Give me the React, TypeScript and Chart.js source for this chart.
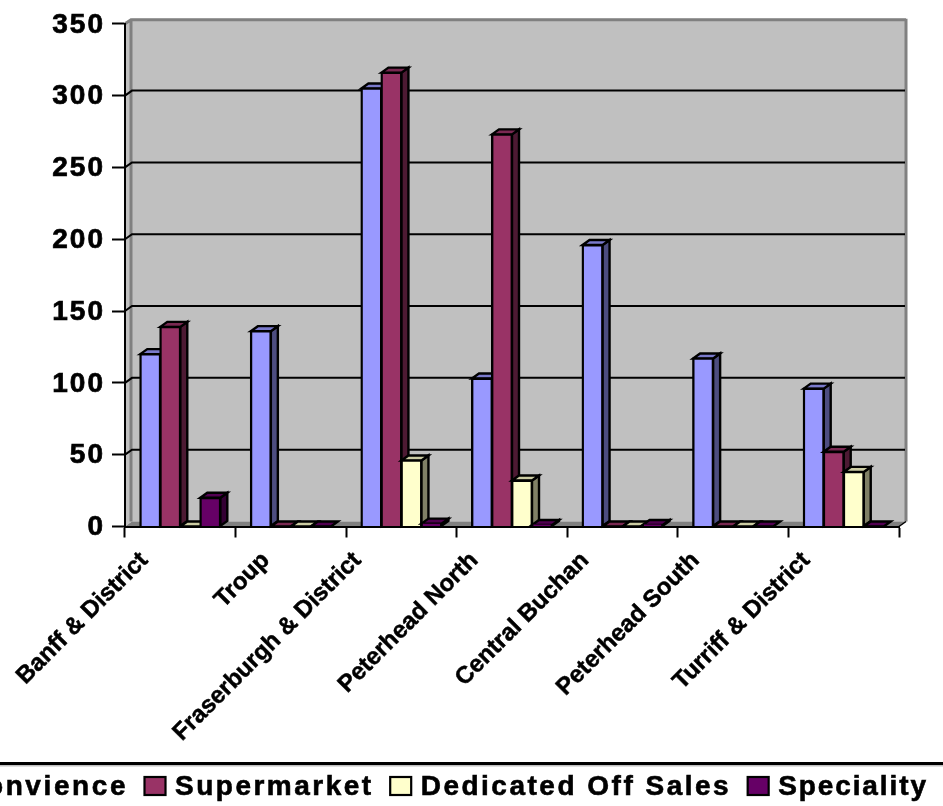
import React, { useEffect, useRef } from "react";
import { Chart, registerables } from "chart.js";

Chart.register(...registerables);

const categories = ["Banff & District", "Troup", "Fraserburgh & District", "Peterhead North", "Central Buchan", "Peterhead South", "Turriff & District"];
const convience = [120, 136, 305, 103, 196, 117, 96];
const supermarket = [139, 0, 316, 273, 0, 0, 52];
const dedicatedOffSales = [0, 0, 46, 32, 0, 0, 38];
const speciality = [20, 0, 2, 1, 1, 0, 0];
const seriesNames = ["Convience", "Supermarket", "Dedicated Off Sales", "Speciality"];
const yTicks = [0, 50, 100, 150, 200, 250, 300, 350];

const fronts = ["#9999FF", "#993366", "#FFFFCC", "#660066"];
const sides = ["#4D4D80", "#4D1A33", "#808066", "#330033"];
const tops = ["#7A7ACC", "#7A2952", "#CCCCA3", "#520052"];

const DX = 7;
const DY = 5;
const LINE = 2.4;
const legendSpacing = [2.6, 2.5, 2.5, 1.9];
const labelNudge = [1.5, 12.5, -6.5, 0, 0, 0, 0];

const wallPlugin = {
  id: "wall",
  beforeDraw(chart: any) {
    const { ctx, chartArea: a, scales } = chart;
    ctx.letterSpacing = "0px";
    const items = scales.x.getLabelItems(a);
    if (!items.__nudged) {
      items.forEach((it: any, i: number) => { it.options.translation[0] += labelNudge[i] || 0; });
      items.__nudged = true;
    }
    ctx.save();
    ctx.fillStyle = "#FFFFFF";
    ctx.fillRect(0, 0, chart.width, chart.height);
    ctx.fillStyle = "#C0C0C0";
    ctx.fillRect(a.left + DX, a.top - DY, a.width, a.height);
    ctx.beginPath();
    ctx.moveTo(a.left, a.top);
    ctx.lineTo(a.left + DX, a.top - DY);
    ctx.lineTo(a.left + DX, a.bottom - DY);
    ctx.lineTo(a.left, a.bottom);
    ctx.closePath();
    ctx.fill();
    ctx.fillStyle = "#808080";
    ctx.beginPath();
    ctx.moveTo(a.left, a.bottom);
    ctx.lineTo(a.left + DX, a.bottom - DY);
    ctx.lineTo(a.right + DX, a.bottom - DY);
    ctx.lineTo(a.right, a.bottom);
    ctx.closePath();
    ctx.fill();
    ctx.strokeStyle = "#808080";
    ctx.lineWidth = 3;
    ctx.beginPath();
    ctx.moveTo(a.left, a.top);
    ctx.lineTo(a.left + DX - 1, a.top - DY + 1);
    ctx.lineTo(a.right + DX, a.top - DY + 1);
    ctx.moveTo(a.left + DX - 1, a.top - DY + 1);
    ctx.lineTo(a.left + DX - 1, a.bottom - DY);
    ctx.moveTo(a.right + DX, a.top - DY);
    ctx.lineTo(a.right + DX, a.bottom - DY);
    ctx.stroke();
    ctx.strokeStyle = "#000000";
    ctx.lineWidth = 2;
    const y = scales.y;
    for (const t of y.ticks) {
      if (t.value === 0 || t.value === 350) continue;
      const py = y.getPixelForValue(t.value);
      ctx.beginPath();
      ctx.moveTo(a.left, py);
      ctx.lineTo(a.left + DX, py - DY);
      ctx.lineTo(a.right + DX - 1, py - DY);
      ctx.stroke();
    }
    ctx.lineWidth = 1.5;
    ctx.beginPath();
    ctx.moveTo(a.right, a.bottom);
    ctx.lineTo(a.right + DX, a.bottom - DY);
    ctx.stroke();
    ctx.restore();
  },
  beforeDatasetsDraw(chart: any) {
    const { ctx } = chart;
    for (let i = 0; i < seriesNames.length; i++) {
      const meta = chart.getDatasetMeta(i);
      ctx.save();
      ctx.strokeStyle = "#000000";
      ctx.lineWidth = LINE;
      for (const bar of meta.data) {
        const l = bar.x - bar.width / 2;
        const r = bar.x + bar.width / 2;
        const t = bar.y;
        const b = bar.base;
        if (b - t > 0.5) {
          ctx.fillStyle = sides[i];
          ctx.beginPath();
          ctx.moveTo(r, t);
          ctx.lineTo(r + DX, t - DY);
          ctx.lineTo(r + DX, b - DY);
          ctx.lineTo(r, b);
          ctx.closePath();
          ctx.fill();
          ctx.stroke();
        }
        ctx.fillStyle = tops[i];
        ctx.beginPath();
        ctx.moveTo(l, t);
        ctx.lineTo(l + DX, t - DY);
        ctx.lineTo(r + DX, t - DY);
        ctx.lineTo(r, t);
        ctx.closePath();
        ctx.fill();
        ctx.stroke();
      }
      ctx.restore();
      meta.controller.draw();
    }
    ctx.letterSpacing = "2px";
    return false;
  },
  afterDraw(chart: any) {
    const { ctx } = chart;
    ctx.save();
    ctx.fillStyle = "#C0C0C0";
    ctx.fillRect(0, 765, chart.width, 1.5);
    ctx.fillStyle = "#000000";
    ctx.fillRect(0, 762, chart.width, 3);
    ctx.font = "bold 28px 'Liberation Sans', Arial, sans-serif";
    ctx.textBaseline = "alphabetic";
    ctx.textAlign = "left";
    let cursor = 926;
    for (let i = seriesNames.length - 1; i >= 0; i--) {
      ctx.letterSpacing = legendSpacing[i] + "px";
      const w = ctx.measureText(seriesNames[i]).width - legendSpacing[i];
      const tx = cursor - w;
      ctx.fillStyle = "#000000";
      ctx.strokeStyle = "#000000";
      ctx.lineWidth = 0.6;
      ctx.fillText(seriesNames[i], tx, 795);
      ctx.strokeText(seriesNames[i], tx, 795);
      const bx = tx - 31.5;
      ctx.fillStyle = fronts[i];
      ctx.lineWidth = 2.2;
      ctx.fillRect(bx + 1, 777, 21, 18);
      ctx.strokeRect(bx + 1, 777, 21, 18);
      cursor = bx - 18;
    }
    ctx.restore();
  },
};

const seriesValues = [convience, supermarket, dedicatedOffSales, speciality];

export default function App() {
  const ref = useRef<HTMLCanvasElement>(null);
  useEffect(() => {
    document.body.style.margin = "0";
    document.body.style.background = "#FFFFFF";
    const chart = new Chart(ref.current!, {
      type: "bar",
      data: {
        labels: categories,
        datasets: seriesNames.map((name, i) => ({
          label: name,
          data: seriesValues[i],
          backgroundColor: fronts[i],
          borderColor: "#000000",
          borderWidth: LINE,
          inflateAmount: 1,
          categoryPercentage: 0.724,
          barPercentage: 1,
        })),
      },
      options: {
        responsive: false,
        animation: false,
        devicePixelRatio: 1,
        layout: { padding: { top: 23.5, right: 44, left: 0, bottom: 0 } },
        plugins: { legend: { display: false }, tooltip: { enabled: false }, title: { display: false } },
        scales: {
          x: {
            type: "category",
            offset: true,
            afterFit(s: any) { s.height = 279.5; },
            grid: { offset: true, drawOnChartArea: false, drawTicks: true, tickLength: 11, tickColor: "#000000", tickWidth: 2 },
            border: { display: true, color: "#000000", width: 2 },
            ticks: {
              autoSkip: false,
              z: -1,
              minRotation: 45,
              maxRotation: 45,
              color: "#000000",
              labelOffset: -37.5,
              padding: 9,
              textStrokeColor: "#000000",
              textStrokeWidth: 0.5,
              font: { family: "'Liberation Sans', Arial, sans-serif", weight: "bold", size: 24 },
            },
          },
          y: {
            min: 0,
            max: 350,
            afterFit(s: any) { s.width = 125; },
            afterBuildTicks(s: any) { s.ticks = yTicks.map((value) => ({ value })); },
            grid: { drawOnChartArea: false, drawTicks: true, tickLength: 13, tickColor: "#000000", tickWidth: 2 },
            border: { display: true, color: "#000000", width: 2 },
            ticks: {
              z: 1,
              color: "#000000",
              padding: 7,
              labelOffset: 1,
              textStrokeColor: "#000000",
              textStrokeWidth: 0.7,
              font: { family: "'Liberation Sans', Arial, sans-serif", weight: "bold", size: 28 },
            },
          },
        },
      },
      plugins: [wallPlugin],
    } as any);
    return () => chart.destroy();
  }, []);
  return <canvas ref={ref} width={943} height={806} style={{ display: "block" }} />;
}
